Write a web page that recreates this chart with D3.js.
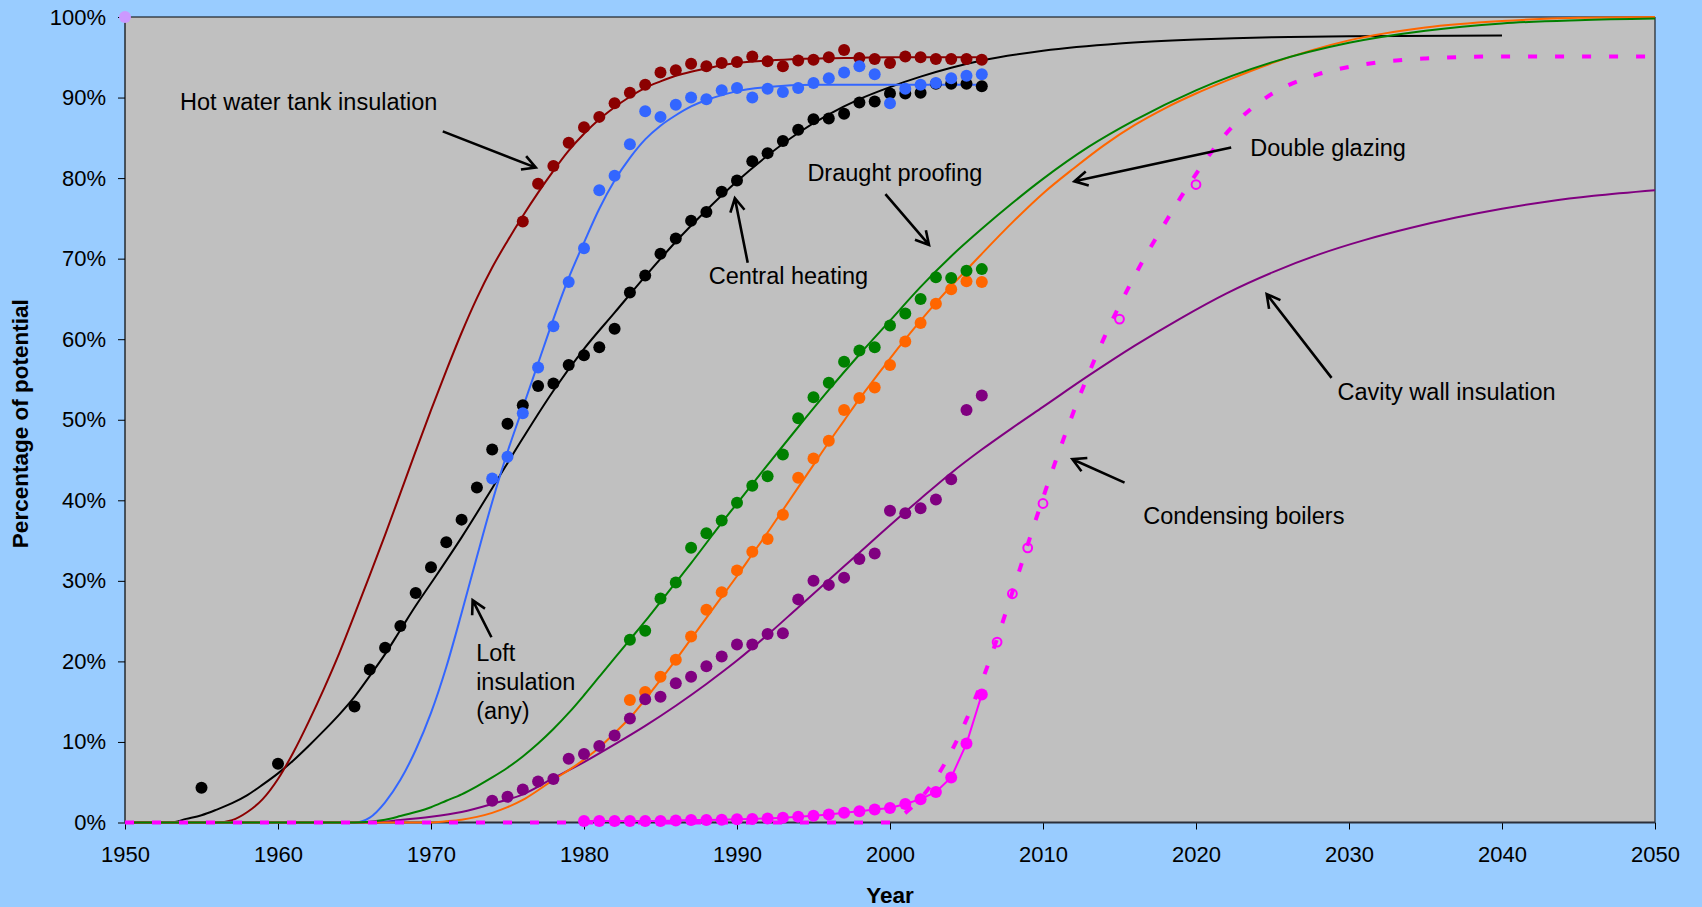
<!DOCTYPE html>
<html>
<head>
<meta charset="utf-8">
<script src="https://cdn.jsdelivr.net/npm/d3@7"></script>
<style>
  html, body { margin: 0; padding: 0; background: #99CCFF; }
  svg { display: block; }
  text { font-family: "Liberation Sans", Arial, Helvetica, sans-serif; }
</style>
</head>
<body>
<svg id="chart" width="1702" height="907"></svg>
<script>
// ---------------- Data (year, % of potential) ----------------

// Observed uptake
const centralHeatingObs = [[1955,4.3],[1960,7.3],[1965,14.4],[1966,19.0],[1967,21.7],[1968,24.4],[1969,28.5],[1970,31.7],[1971,34.8],[1972,37.6],[1973,41.6],[1974,46.3],[1975,49.5],[1976,51.8],[1977,54.2],[1978,54.5],[1979,56.8],[1980,58.0],[1981,59.0],[1982,61.3],[1983,65.8],[1984,67.9],[1985,70.6],[1986,72.5],[1987,74.7],[1988,75.8],[1989,78.3],[1990,79.7],[1991,82.1],[1992,83.1],[1993,84.6],[1994,86.0],[1995,87.3],[1996,87.4],[1997,88.0],[1998,89.4],[1999,89.5],[2000,90.5],[2001,90.5],[2002,90.6],[2003,91.7],[2004,91.7],[2005,91.7],[2006,91.4]];
const hotWaterObs = [[1976,74.6],[1977,79.3],[1978,81.5],[1979,84.4],[1980,86.3],[1981,87.6],[1982,89.3],[1983,90.6],[1984,91.6],[1985,93.1],[1986,93.4],[1987,94.2],[1988,93.9],[1989,94.3],[1990,94.4],[1991,95.1],[1992,94.5],[1993,93.9],[1994,94.6],[1995,94.7],[1996,95.0],[1997,95.9],[1998,94.9],[1999,94.8],[2000,94.3],[2001,95.1],[2002,95.0],[2003,94.8],[2004,94.8],[2005,94.8],[2006,94.7]];
const loftObs = [[1974,42.7],[1975,45.4],[1976,50.8],[1977,56.5],[1978,61.6],[1979,67.1],[1980,71.3],[1981,78.5],[1982,80.3],[1983,84.2],[1984,88.3],[1985,87.6],[1986,89.1],[1987,90.0],[1988,89.8],[1989,90.9],[1990,91.2],[1991,90.0],[1992,91.1],[1993,90.7],[1994,91.2],[1995,91.8],[1996,92.4],[1997,93.1],[1998,93.9],[1999,92.9],[2000,89.3],[2001,91.1],[2002,91.6],[2003,91.8],[2004,92.4],[2005,92.7],[2006,92.9]];
const draughtObs = [[1983,22.7],[1984,23.8],[1985,27.8],[1986,29.8],[1987,34.1],[1988,35.9],[1989,37.5],[1990,39.7],[1991,41.8],[1992,43.0],[1993,45.7],[1994,50.2],[1995,52.8],[1996,54.6],[1997,57.2],[1998,58.6],[1999,59.0],[2000,61.7],[2001,63.2],[2002,65.0],[2003,67.7],[2004,67.6],[2005,68.5],[2006,68.7]];
const glazingObs = [[1983,15.2],[1984,16.2],[1985,18.1],[1986,20.2],[1987,23.1],[1988,26.4],[1989,28.6],[1990,31.3],[1991,33.6],[1992,35.2],[1993,38.2],[1994,42.8],[1995,45.2],[1996,47.4],[1997,51.2],[1998,52.7],[1999,54.0],[2000,56.8],[2001,59.7],[2002,62.0],[2003,64.4],[2004,66.2],[2005,67.2],[2006,67.1]];
const cavityObs = [[1974,2.7],[1975,3.2],[1976,4.1],[1977,5.1],[1978,5.4],[1979,7.9],[1980,8.5],[1981,9.5],[1982,10.8],[1983,12.9],[1984,15.3],[1985,15.6],[1986,17.3],[1987,18.1],[1988,19.4],[1989,20.6],[1990,22.1],[1991,22.1],[1992,23.4],[1993,23.5],[1994,27.7],[1995,30.0],[1996,29.5],[1997,30.4],[1998,32.7],[1999,33.4],[2000,38.7],[2001,38.4],[2002,39.0],[2003,40.1],[2004,42.6],[2005,51.2],[2006,53.0]];
const boilerObs = [[1980,0.2],[1981,0.2],[1982,0.2],[1983,0.2],[1984,0.2],[1985,0.2],[1986,0.25],[1987,0.3],[1988,0.3],[1989,0.35],[1990,0.4],[1991,0.45],[1992,0.5],[1993,0.6],[1994,0.7],[1995,0.85],[1996,1.0],[1997,1.2],[1998,1.4],[1999,1.6],[2000,1.8],[2001,2.3],[2002,2.9],[2003,3.8],[2004,5.6],[2005,9.8],[2006,15.9]];
const boilerTargets = [[2007,22.4],[2008,28.4],[2009,34.1],[2010,39.6],[2015,62.5],[2020,79.2]];
const cornerPoint = [[1950,100]];

// Fitted uptake curves
const hotWaterFit = [[1950,0],[1956,0],[1957,0.3],[1958,1.3],[1959,2.9],[1960,5.4],[1961,8.7],[1962,12.5],[1963,16.6],[1964,21.0],[1965,25.8],[1966,30.7],[1967,35.7],[1968,40.9],[1969,46.1],[1970,51.2],[1971,56.1],[1972,60.8],[1973,65.1],[1974,68.9],[1975,72.2],[1976,75.3],[1977,78.2],[1978,80.9],[1979,83.4],[1980,85.5],[1981,87.3],[1982,88.8],[1983,90.1],[1984,91.2],[1985,92.0],[1986,92.7],[1987,93.2],[1988,93.6],[1989,94.0],[1990,94.3],[1992,94.6],[1994,94.8],[1997,94.9],[2000,95.0],[2006,95.0]];
const loftFit = [[1950,0],[1965,0],[1966,0.6],[1967,2.5],[1968,5.3],[1969,9.0],[1970,13.6],[1971,19.3],[1972,26.0],[1973,33.0],[1974,39.8],[1975,46.0],[1976,51.5],[1977,57.0],[1978,62.5],[1979,67.6],[1980,72.0],[1981,76.2],[1982,79.7],[1983,82.5],[1984,84.8],[1985,86.5],[1986,87.8],[1987,88.9],[1988,89.7],[1989,90.3],[1990,90.8],[1992,91.3],[1995,91.6],[2000,91.6],[2006,91.6]];
const centralHeatingFit = [[1950,0],[1953,0],[1954,0.45],[1955,0.9],[1956,1.6],[1957,2.4],[1958,3.4],[1959,4.7],[1960,6.1],[1961,7.7],[1962,9.5],[1963,11.4],[1964,13.4],[1965,15.6],[1966,18.2],[1967,20.9],[1968,23.9],[1969,26.9],[1970,29.7],[1972,35.4],[1974,41.5],[1976,47.7],[1978,53.6],[1980,58.8],[1982,63.3],[1984,67.8],[1986,72.1],[1988,76.0],[1990,79.6],[1992,82.8],[1994,85.6],[1996,87.9],[1998,89.8],[2000,91.3],[2002,92.6],[2004,93.7],[2006,94.6],[2010,95.8],[2015,96.7],[2020,97.2],[2025,97.5],[2030,97.6],[2040,97.7]];
const draughtFit = [[1950,0],[1965,0],[1966,0.1],[1967,0.35],[1968,0.8],[1969,1.3],[1970,1.9],[1971,2.7],[1972,3.5],[1973,4.5],[1974,5.6],[1975,6.8],[1976,8.2],[1977,9.8],[1978,11.6],[1979,13.6],[1980,15.8],[1981,18.1],[1982,20.4],[1983,22.7],[1984,25.0],[1985,27.4],[1986,29.8],[1987,32.2],[1988,34.7],[1989,37.2],[1990,39.6],[1992,44.4],[1994,49.1],[1996,53.7],[1998,58.1],[2000,62.3],[2002,66.5],[2004,70.3],[2006,73.7],[2008,76.9],[2010,79.9],[2013,83.9],[2016,87.2],[2020,90.9],[2025,94.4],[2030,96.8],[2035,98.3],[2040,99.2],[2045,99.6],[2050,99.8]];
const glazingFit = [[1950,0],[1970,0],[1971,0.15],[1972,0.35],[1973,0.7],[1974,1.2],[1975,1.9],[1976,2.8],[1977,4.0],[1978,5.3],[1979,6.5],[1980,7.8],[1981,9.3],[1982,11.1],[1983,13.0],[1984,15.3],[1985,17.7],[1986,20.2],[1987,22.8],[1988,25.4],[1989,28.0],[1990,30.6],[1991,33.3],[1992,36.0],[1993,38.8],[1994,41.6],[1995,44.4],[1996,47.2],[1997,49.9],[1998,52.6],[1999,55.1],[2000,57.6],[2001,60.0],[2002,62.3],[2003,64.5],[2004,66.6],[2005,68.6],[2006,70.6],[2008,74.5],[2010,78.1],[2012,81.2],[2014,84.1],[2016,86.6],[2018,88.7],[2020,90.5],[2022,92.1],[2025,94.3],[2030,97.1],[2035,98.7],[2040,99.5],[2045,99.9],[2050,100]];
const cavityFit = [[1950,0],[1966,0],[1968,0.3],[1970,0.7],[1972,1.3],[1974,2.3],[1976,3.5],[1978,5.5],[1980,7.5],[1982,9.7],[1984,12.0],[1986,14.5],[1988,17.2],[1990,20.1],[1992,23.3],[1994,26.7],[1996,30.1],[1998,33.5],[2000,36.9],[2002,40.2],[2004,43.4],[2006,46.3],[2008,49.0],[2010,51.6],[2013,55.5],[2016,59.2],[2019,62.6],[2022,65.7],[2025,68.3],[2028,70.5],[2031,72.3],[2034,73.8],[2037,75.1],[2040,76.2],[2043,77.1],[2046,77.8],[2050,78.5]];
const boilerProjection = [[1950,0],[2000,0],[2001,1.2],[2002,3.0],[2003,5.5],[2004,8.8],[2005,12.8],[2006,17.5],[2007,22.8],[2008,28.6],[2009,34.5],[2010,40.3],[2011,45.8],[2012,51.0],[2013,55.8],[2014,60.2],[2015,64.2],[2016,67.9],[2017,71.3],[2018,74.5],[2019,77.6],[2020,80.5],[2021,83.2],[2022,85.6],[2023,87.6],[2024,89.2],[2025,90.5],[2026,91.5],[2028,92.9],[2030,93.8],[2032,94.4],[2035,94.85],[2040,95.1],[2050,95.1]];

// Axis ticks
const yearTicks = [1950,1960,1970,1980,1990,2000,2010,2020,2030,2040,2050];
const percentTicks = [0,10,20,30,40,50,60,70,80,90,100];

// Annotations: label text with left/baseline anchor, arrow from tail to tip (data units)
const labels = [
  { lines: ["Hot water tank insulation"], at: [1953.6, 88.4] },
  { lines: ["Central heating"], at: [1988.15, 66.8] },
  { lines: ["Draught proofing"], at: [1994.6, 79.6] },
  { lines: ["Double glazing"], at: [2023.55, 82.8] },
  { lines: ["Cavity wall insulation"], at: [2029.25, 52.4] },
  { lines: ["Condensing boilers"], at: [2016.55, 37.0] },
  { lines: ["Loft", "insulation", "(any)"], at: [1972.95, 20.0] }
];
const arrows = [
  { from: [1970.77, 85.8], to: [1976.85, 81.3] },
  { from: [1990.7, 69.5], to: [1989.86, 77.5] },
  { from: [1999.7, 78.0], to: [2002.55, 71.7] },
  { from: [2022.3, 83.8], to: [2012.05, 79.6] },
  { from: [2015.33, 42.2], to: [2011.92, 45.1] },
  { from: [2028.86, 55.2], to: [2024.62, 65.6] },
  { from: [1973.95, 23.0], to: [1972.72, 27.6] }
];

// ---------------- Layout ----------------
const svg = d3.select("#chart");
const W = 1702, H = 907;
const plot = { left: 125, right: 1655, top: 17, bottom: 822.5 };

const x = d3.scaleLinear().domain([1950, 2050]).range([plot.left, plot.right]);
const y = d3.scaleLinear().domain([0, 100]).range([plot.bottom, plot.top]);

svg.append("rect").attr("width", W).attr("height", H).attr("fill", "#99CCFF");
svg.append("rect")
  .attr("x", plot.left).attr("y", plot.top)
  .attr("width", plot.right - plot.left).attr("height", plot.bottom - plot.top)
  .attr("fill", "#C0C0C0");

// plot frame (top and right)
svg.append("path")
  .attr("d", `M${plot.left},${plot.top}H${plot.right}V${plot.bottom}`)
  .attr("fill", "none").attr("stroke", "#000").attr("stroke-width", 1);

// axes
const yAxis = d3.axisLeft(y).tickValues(percentTicks).tickFormat(d => d + "%")
  .tickSize(7).tickPadding(12);
const xAxis = d3.axisBottom(x).tickValues(yearTicks).tickFormat(d => String(d))
  .tickSize(7).tickPadding(17);

const gy = svg.append("g").attr("transform", `translate(${plot.left},0)`).call(yAxis);
const gx = svg.append("g").attr("transform", `translate(0,${plot.bottom})`).call(xAxis);
[gy, gx].forEach(g => {
  g.select(".domain").remove();
  g.selectAll(".tick line").attr("stroke", "#000");
  g.selectAll(".tick text").attr("fill", "#000").style("font-size", "22px")
    .style("font-family", '"Liberation Sans", Arial, sans-serif');
});
svg.append("line").attr("x1", plot.left).attr("x2", plot.left)
  .attr("y1", plot.top).attr("y2", plot.bottom).attr("stroke", "#000").attr("stroke-width", 1.2);
svg.append("line").attr("x1", plot.left).attr("x2", plot.right)
  .attr("y1", plot.bottom).attr("y2", plot.bottom).attr("stroke", "#2b2f3a").attr("stroke-width", 2);

// axis titles
svg.append("text")
  .attr("transform", `translate(28,${(plot.top + plot.bottom) / 2 + 4}) rotate(-90)`)
  .attr("text-anchor", "middle").style("font-size", "22.5px").style("font-weight", "bold")
  .text("Percentage of potential");
svg.append("text")
  .attr("x", (plot.left + plot.right) / 2).attr("y", 903)
  .attr("text-anchor", "middle").style("font-size", "22.5px").style("font-weight", "bold")
  .text("Year");

// ---------------- Series ----------------
const line = d3.line().x(d => x(d[0])).y(d => y(d[1])).curve(d3.curveMonotoneX);
const straight = d3.line().x(d => x(d[0])).y(d => y(d[1]));

const curves = [
  { data: centralHeatingFit, color: "#000000" },
  { data: hotWaterFit, color: "#8B0000" },
  { data: loftFit, color: "#3366FF" },
  { data: cavityFit, color: "#800080" },
  { data: glazingFit, color: "#FF6600" },
  { data: draughtFit, color: "#008000" }
];
const gCurves = svg.append("g");
curves.forEach(c => {
  gCurves.append("path").attr("d", line(c.data))
    .attr("fill", "none").attr("stroke", c.color).attr("stroke-width", 2)
    .attr("stroke-linejoin", "round");
});

// condensing boilers: observed line and dashed projection
gCurves.append("path").attr("d", straight(boilerObs))
  .attr("fill", "none").attr("stroke", "#FF00FF").attr("stroke-width", 2);
gCurves.append("path").attr("d", line(boilerProjection))
  .attr("fill", "none").attr("stroke", "#FF00FF").attr("stroke-width", 4)
  .attr("stroke-dasharray", "9,18");

const dotSeries = [
  { data: hotWaterObs, color: "#8B0000" },
  { data: centralHeatingObs, color: "#000000" },
  { data: loftObs, color: "#3366FF" },
  { data: glazingObs, color: "#FF6600" },
  { data: cavityObs, color: "#800080" },
  { data: draughtObs, color: "#008000" },
  { data: boilerObs, color: "#FF00FF" },
  { data: cornerPoint, color: "#CC99FF" }
];
const gDots = svg.append("g");
dotSeries.forEach(s => {
  gDots.append("g").selectAll("circle").data(s.data).join("circle")
    .attr("cx", d => x(d[0])).attr("cy", d => y(d[1])).attr("r", 6)
    .attr("fill", s.color);
});
gDots.append("g").selectAll("circle").data(boilerTargets).join("circle")
  .attr("cx", d => x(d[0])).attr("cy", d => y(d[1])).attr("r", 4.4)
  .attr("fill", "none").attr("stroke", "#FF00FF").attr("stroke-width", 2);

// ---------------- Annotations ----------------
const gAnn = svg.append("g");
labels.forEach(l => {
  const t = gAnn.append("text").attr("x", x(l.at[0])).attr("y", y(l.at[1]))
    .style("font-size", "23.5px").attr("fill", "#000");
  l.lines.forEach((s, i) => {
    t.append("tspan").attr("x", x(l.at[0])).attr("dy", i === 0 ? 0 : 28.6).text(s);
  });
});
arrows.forEach(a => {
  const x1 = x(a.from[0]), y1 = y(a.from[1]), x2 = x(a.to[0]), y2 = y(a.to[1]);
  const ang = Math.atan2(y2 - y1, x2 - x1), len = 15, spread = 0.5;
  const b1 = [x2 - len * Math.cos(ang - spread), y2 - len * Math.sin(ang - spread)];
  const b2 = [x2 - len * Math.cos(ang + spread), y2 - len * Math.sin(ang + spread)];
  gAnn.append("path")
    .attr("d", `M${x1},${y1}L${x2},${y2}M${b1[0]},${b1[1]}L${x2},${y2}L${b2[0]},${b2[1]}`)
    .attr("fill", "none").attr("stroke", "#000").attr("stroke-width", 2.6)
    .attr("stroke-linecap", "butt").attr("stroke-linejoin", "miter");
});
</script>
</body>
</html>
